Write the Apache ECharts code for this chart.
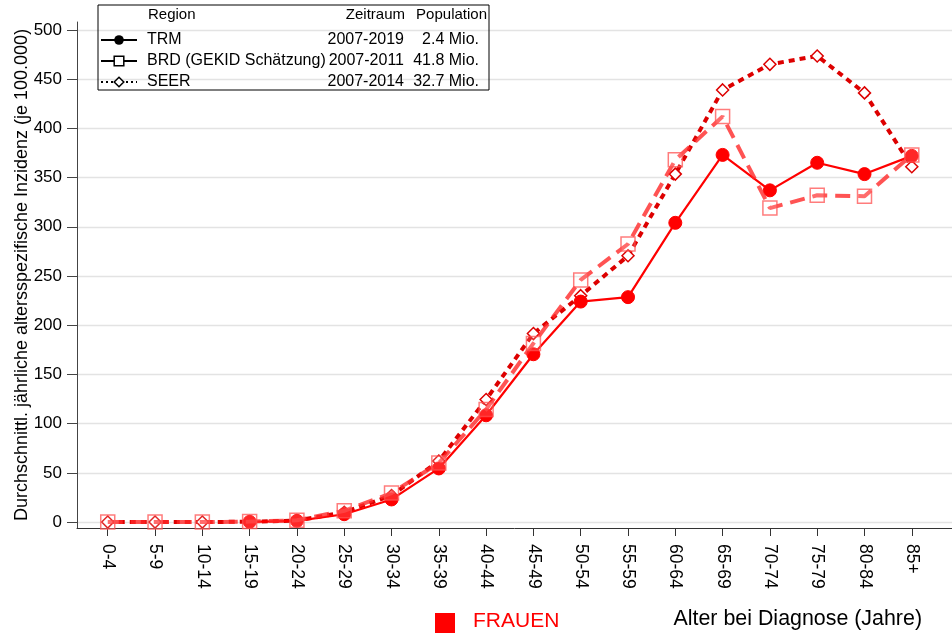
<!DOCTYPE html>
<html>
<head>
<meta charset="utf-8">
<script src="https://cdn.jsdelivr.net/npm/echarts@6/dist/echarts.min.js"></script>
<style>
  html, body { margin: 0; padding: 0; background: #fff; }
  #chart { width: 952px; height: 636px; }
</style>
</head>
<body>
<div id="chart"></div>
<script>
// Age groups at diagnosis
const categories = ['0-4', '5-9', '10-14', '15-19', '20-24', '25-29', '30-34', '35-39', '40-44',
  '45-49', '50-54', '55-59', '60-64', '65-69', '70-74', '75-79', '80-84', '85+'];

// Average annual age-specific incidence per 100,000 (women)
const trm  = [null, null, null, 0.3, 1.3, 8, 23, 54.5, 108.5, 170.5, 224, 228.5, 304, 373, 337, 365, 353.5, 372];
const brd  = [0, 0, 0, 0.5, 1.8, 11.5, 29.5, 60, 114.5, 181.5, 246, 282.5, 368, 412, 319, 332, 331, 373];
const seer = [0, 0, 0, 0.4, 1.5, 10, 27, 62, 124.5, 191.5, 230, 270.5, 353.5, 439, 465, 473.5, 436, 361];

// Legend table columns
const regionNames = ['TRM', 'BRD (GEKID Schätzung)', 'SEER'];
const periods = ['2007-2019', '2007-2011', '2007-2014'];
const populations = ['2.4 Mio.', '41.8 Mio.', '32.7 Mio.'];

// Axis ticks
const yTicks = [0, 50, 100, 150, 200, 250, 300, 350, 400, 450, 500];
const xTicks = categories.map((c, i) => i);

const FONT = "'Liberation Sans', Arial, sans-serif";

const toPairs = arr => arr.map((v, i) => [i, v]);

const chart = echarts.init(document.getElementById('chart'), null, { renderer: 'canvas' });

chart.setOption({
  backgroundColor: '#fff',
  animation: false,
  textStyle: { fontFamily: FONT },
  grid: { left: 77, right: 0, top: 22, bottom: 108, containLabel: false },
  xAxis: {
    type: 'value',
    min: -0.65,
    max: 17.85,
    axisLine: { show: true, onZero: false, lineStyle: { color: '#333', width: 1 } },
    axisTick: { show: true, length: 8, customValues: xTicks, lineStyle: { color: '#333' } },
    axisLabel: {
      customValues: xTicks,
      rotate: -90,
      margin: 16,
      fontSize: 17.5,
      color: '#000',
      fontFamily: FONT,
      formatter: v => categories[v]
    },
    splitLine: { show: false }
  },
  yAxis: {
    type: 'value',
    min: -6,
    max: 508,
    axisLine: { show: true, onZero: false, lineStyle: { color: '#444', width: 1 } },
    axisTick: { show: true, length: 10, customValues: yTicks, lineStyle: { color: '#444' } },
    axisLabel: { customValues: yTicks, margin: 15, fontSize: 17, color: '#000', fontFamily: FONT },
    splitLine: { show: true, lineStyle: { color: '#e3e3e3', width: 1.3 } },
    name: 'Durchschnittl. jährliche altersspezifische Inzidenz (je 100.000)',
    nameLocation: 'middle',
    nameGap: 46,
    nameMoveOverlap: false,
    nameTextStyle: { fontSize: 18, color: '#000', fontFamily: FONT }
  },
  legend: {
    orient: 'vertical',
    left: 98,
    top: 5,
    padding: [27, 10, 0, 2],
    itemGap: 5,
    itemWidth: 36,
    itemHeight: 12,
    borderColor: '#000',
    borderWidth: 1,
    selectedMode: false,
    data: [
      { name: regionNames[0], itemStyle: { color: '#000', borderColor: '#000' }, lineStyle: { color: '#000', width: 2, type: 'solid' } },
      { name: regionNames[1], itemStyle: { color: '#fff', borderColor: '#000', borderWidth: 1.5 }, lineStyle: { color: '#000', width: 2 } },
      { name: regionNames[2], itemStyle: { color: '#fff', borderColor: '#000', borderWidth: 1.5 }, lineStyle: { color: '#000', width: 2, type: [2, 3] } }
    ],
    formatter: name => {
      const i = regionNames.indexOf(name);
      return '{a|' + name + '}{b|' + periods[i] + '}{c|' + populations[i] + '}';
    },
    textStyle: {
      fontSize: 16,
      color: '#000',
      fontFamily: FONT,
      rich: {
        a: { width: 177, fontSize: 16, lineHeight: 18, padding: [0, 0, 0, 5], fontFamily: FONT },
        b: { width: 80, fontSize: 16, lineHeight: 18, align: 'right', fontFamily: FONT },
        c: { width: 75, fontSize: 16, lineHeight: 18, align: 'right', fontFamily: FONT }
      }
    }
  },
  graphic: [
    { type: 'text', left: 148, top: 7, style: { text: 'Region', fill: '#000', font: '15px ' + FONT } },
    { type: 'text', right: 952 - 405, top: 7, style: { text: 'Zeitraum', fill: '#000', font: '15px ' + FONT } },
    { type: 'text', right: 952 - 487, top: 7, style: { text: 'Population', fill: '#000', font: '15px ' + FONT } },
    { type: 'rect', left: 435, top: 613, shape: { width: 20, height: 20 }, style: { fill: '#ff0000' } },
    { type: 'text', left: 473, top: 611, style: { text: 'FRAUEN', fill: '#ff0000', font: '21px ' + FONT } },
    { type: 'text', right: 952 - 922, top: 609, style: { text: 'Alter bei Diagnose (Jahre)', fill: '#000', font: '21.4px ' + FONT } }
  ],
  series: [
    {
      name: regionNames[2],
      type: 'line',
      data: toPairs(seer),
      z: 2,
      symbol: 'diamond',
      symbolSize: 12,
      lineStyle: { color: '#dd0000', width: 4, type: [6, 5] },
      itemStyle: { color: '#fff', borderColor: '#dd0000', borderWidth: 1.5 }
    },
    {
      name: regionNames[0],
      type: 'line',
      data: toPairs(trm),
      z: 3,
      symbol: 'circle',
      symbolSize: 13,
      connectNulls: false,
      lineStyle: { color: '#ff0000', width: 2.2 },
      itemStyle: { color: '#ff0000', borderColor: '#ff0000' }
    },
    {
      name: regionNames[1],
      type: 'line',
      data: toPairs(brd),
      z: 4,
      symbol: 'rect',
      symbolSize: 14,
      lineStyle: { color: 'rgba(255,40,40,0.8)', width: 4, type: [15, 8] },
      itemStyle: { color: 'rgba(255,255,255,0.15)', borderColor: 'rgba(255,80,80,0.75)', borderWidth: 1.5 }
    }
  ]
});
</script>
</body>
</html>
